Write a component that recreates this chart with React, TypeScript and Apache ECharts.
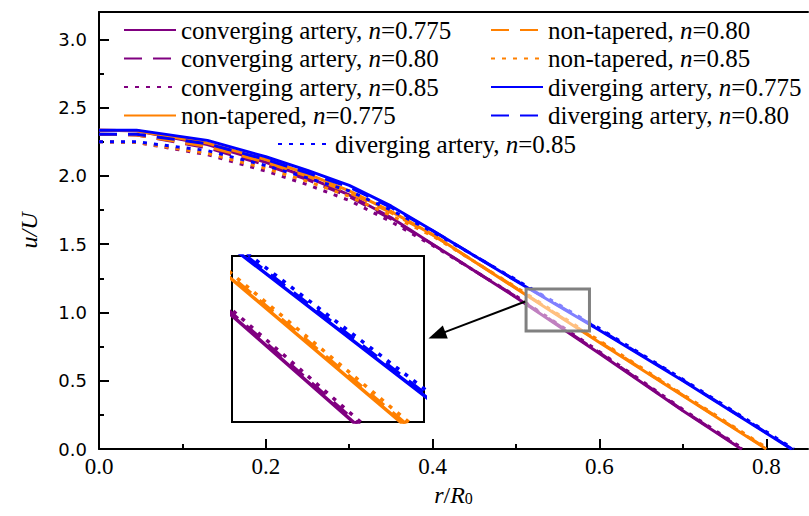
import React, { useEffect, useRef } from 'react';
import * as echarts from 'echarts';

// ---- data ----
const rPoints = [0, 0.045, 0.13, 0.2, 0.25, 0.3, 0.35, 0.4, 0.5, 0.6, 0.7];

const convU775 = [2.335, 2.33, 2.23, 2.1, 1.99, 1.86, 1.695, 1.5, 1.11, 0.7, 0.28];
const convU80 = [2.305, 2.3, 2.205, 2.08, 1.972, 1.848, 1.685, 1.498, 1.114, 0.705, 0.284];
const convU85 = [2.25, 2.245, 2.155, 2.035, 1.935, 1.82, 1.665, 1.49, 1.12, 0.713, 0.29];
const convEnd = [0.77, 0.771, 0.773];

const nonU775 = [2.335, 2.33, 2.24, 2.12, 2.015, 1.89, 1.74, 1.57, 1.175, 0.78, 0.39];
const nonU80 = [2.305, 2.3, 2.215, 2.1, 1.998, 1.878, 1.73, 1.568, 1.179, 0.785, 0.394];
const nonU85 = [2.25, 2.245, 2.165, 2.055, 1.96, 1.85, 1.71, 1.56, 1.185, 0.793, 0.4];
const nonEnd = [0.8, 0.801, 0.803];

const divU775 = [2.335, 2.335, 2.26, 2.14, 2.04, 1.93, 1.78, 1.6, 1.23, 0.87, 0.5];
const divU80 = [2.305, 2.305, 2.235, 2.12, 2.022, 1.918, 1.77, 1.598, 1.234, 0.875, 0.504];
const divU85 = [2.25, 2.25, 2.185, 2.075, 1.985, 1.89, 1.75, 1.59, 1.24, 0.883, 0.51];
const divEnd = [0.83, 0.831, 0.833];

const xMajor = [0, 0.2, 0.4, 0.6, 0.8];
const xMinor = [0.1, 0.3, 0.5, 0.7];
const yMajor = [0, 0.5, 1.0, 1.5, 2.0, 2.5, 3.0];
const yMinor = [0.25, 0.75, 1.25, 1.75, 2.25, 2.75];

// zoomed region (inset) in data coordinates
const insetR = [0.512, 0.588];
const insetU = [0.864, 1.171];
// arrow from the zoom box to the inset, data coordinates
const arrowFrom = [0.511, 1.08];
const arrowTo = [0.395, 0.81];

const PURPLE = '#800080';
const ORANGE = '#FF8000';
const BLUE = '#0000FF';
const SERIF = "'Liberation Serif', 'Times New Roman', serif";
const SANS = "'DejaVu Sans', Verdana, sans-serif";

const DASH = [18, 11];
const DOT = [4, 7];

const defs = [
  { name: 'converging artery, n=0.775', color: PURPLE, type: 'solid', u: convU775, end: convEnd[0] },
  { name: 'converging artery, n=0.80', color: PURPLE, type: DASH, u: convU80, end: convEnd[1] },
  { name: 'converging artery, n=0.85', color: PURPLE, type: DOT, u: convU85, end: convEnd[2] },
  { name: 'non-tapered, n=0.775', color: ORANGE, type: 'solid', u: nonU775, end: nonEnd[0] },
  { name: 'non-tapered, n=0.80', color: ORANGE, type: DASH, u: nonU80, end: nonEnd[1] },
  { name: 'non-tapered, n=0.85', color: ORANGE, type: DOT, u: nonU85, end: nonEnd[2] },
  { name: 'diverging artery, n=0.775', color: BLUE, type: 'solid', u: divU775, end: divEnd[0] },
  { name: 'diverging artery, n=0.80', color: BLUE, type: DASH, u: divU80, end: divEnd[1] },
  { name: 'diverging artery, n=0.85', color: BLUE, type: DOT, u: divU85, end: divEnd[2] },
];

function seriesData(u: number[], end: number) {
  const d: number[][] = rPoints.map((r, i) => [r, u[i]]);
  d.push([end, 0]);
  return d;
}

export default function App() {
  const ref = useRef<HTMLDivElement>(null);
  useEffect(() => {
    document.body.style.margin = '0';
    const chart = echarts.init(ref.current!, null, { renderer: 'svg' });
    const names = defs.map((d) => d.name);
    const LH = 25;
    const PITCH = 28.5;
    const legendText = {
      fontFamily: SERIF,
      fontSize: 25,
      color: '#000',
      lineHeight: LH,
      rich: { i: { fontFamily: SERIF, fontSize: 25, fontStyle: 'italic', color: '#000', lineHeight: LH } },
    };
    const legendBase = {
      orient: 'vertical',
      itemWidth: 52,
      itemHeight: 14,
      itemGap: PITCH - LH,
      padding: 0,
      selectedMode: false,
      itemStyle: { color: 'rgba(0,0,0,0)', borderColor: 'rgba(0,0,0,0)', borderWidth: 0, opacity: 0 },
      textStyle: legendText,
      formatter: (n: string) => n.replace('n=', '{i|n}='),
    };
    const axisLineStyle = { color: '#000', width: 2 };

    const mainSeries = defs.map((d) => ({
      name: d.name,
      type: 'line',
      xAxisIndex: 0,
      yAxisIndex: 0,
      data: seriesData(d.u, d.end),
      symbol: 'none',
      showSymbol: false,
      lineStyle: { color: d.color, width: 3, type: d.type, cap: 'butt' },
      itemStyle: { color: d.color },
      z: 2,
    }));
    const insetSeries = defs.map((d) => ({
      name: d.name,
      type: 'line',
      xAxisIndex: 3,
      yAxisIndex: 2,
      data: seriesData(d.u, d.end),
      symbol: 'none',
      showSymbol: false,
      clip: true,
      lineStyle: { color: d.color, width: 3.5, type: d.type, cap: 'butt' },
      itemStyle: { color: d.color },
      z: 3,
    }));

    chart.setOption({
      animation: false,
      backgroundColor: '#fff',
      grid: [
        { left: 99, right: 1, top: 12, bottom: 67 },
        {
          left: 232, top: 256, width: 192, height: 166, show: true,
          backgroundColor: '#fff', borderColor: '#000', borderWidth: 2, z: 1,
        },
      ],
      legend: [
        { ...legendBase, data: names.slice(0, 4), left: 123, top: 30 - LH / 2 },
        { ...legendBase, data: names.slice(4, 8), left: 490, top: 30 - LH / 2 },
        { ...legendBase, data: names.slice(8), left: 277, top: 30 - LH / 2 + 4 * PITCH },
      ],
      xAxis: [
        {
          type: 'value', gridIndex: 0, min: 0, max: 0.85, position: 'bottom',
          axisLine: { show: true, onZero: false, lineStyle: axisLineStyle },
          axisTick: { show: true, inside: true, length: 10, customValues: xMajor, lineStyle: axisLineStyle },
          axisLabel: {
            customValues: xMajor, formatter: (v: number) => v.toFixed(1),
            fontFamily: SERIF, fontSize: 23, color: '#000', margin: 6,
          },
          splitLine: { show: false },
          name: '{i|r}/{i|R}{s|0}',
          nameLocation: 'middle',
          nameGap: 30,
          nameTextStyle: {
            fontFamily: SERIF, fontSize: 24, color: '#000',
            rich: {
              i: { fontFamily: SERIF, fontSize: 24, fontStyle: 'italic', color: '#000' },
              s: { fontFamily: SERIF, fontSize: 16, color: '#000', verticalAlign: 'bottom', padding: [8, 0, 0, 0] },
            },
          },
        },
        {
          type: 'value', gridIndex: 0, min: 0, max: 0.85, position: 'top',
          axisLine: { show: true, onZero: false, lineStyle: axisLineStyle },
          axisTick: { show: false }, axisLabel: { show: false }, splitLine: { show: false },
        },
        {
          type: 'value', gridIndex: 0, min: 0, max: 0.85, position: 'bottom',
          axisLine: { show: false, onZero: false },
          axisTick: { show: true, inside: true, length: 5, customValues: xMinor, lineStyle: axisLineStyle },
          axisLabel: { show: false }, splitLine: { show: false },
        },
        {
          type: 'value', gridIndex: 1, min: insetR[0], max: insetR[1], show: false,
          splitLine: { show: false },
        },
      ],
      yAxis: [
        {
          type: 'value', gridIndex: 0, min: 0, max: 3.2, position: 'left',
          axisLine: { show: true, onZero: false, lineStyle: axisLineStyle },
          axisTick: { show: true, inside: true, length: 10, customValues: yMajor, lineStyle: axisLineStyle },
          axisLabel: {
            customValues: yMajor, formatter: (v: number) => v.toFixed(1),
            fontFamily: SANS, fontSize: 18, color: '#000', margin: 12,
          },
          splitLine: { show: false },
          name: 'u/U',
          nameLocation: 'middle',
          nameGap: 58,
          nameTextStyle: { fontFamily: SERIF, fontSize: 24, fontStyle: 'italic', color: '#000' },
        },
        {
          type: 'value', gridIndex: 0, min: 0, max: 3.2, position: 'left',
          axisLine: { show: false, onZero: false },
          axisTick: { show: true, inside: true, length: 5, customValues: yMinor, lineStyle: axisLineStyle },
          axisLabel: { show: false }, splitLine: { show: false },
        },
        {
          type: 'value', gridIndex: 1, min: insetU[0], max: insetU[1], show: false,
          splitLine: { show: false },
        },
      ],
      series: [...mainSeries, ...insetSeries],
    });

    const p = (pt: number[]) => chart.convertToPixel({ xAxisIndex: 0, yAxisIndex: 0 }, pt) as number[];
    const a = p([insetR[0], insetU[1]]);
    const b = p([insetR[1], insetU[0]]);
    const s = p(arrowFrom);
    const t = p(arrowTo);
    const dx = t[0] - s[0];
    const dy = t[1] - s[1];
    const len = Math.sqrt(dx * dx + dy * dy);
    const ux = dx / len;
    const uy = dy / len;
    const headLen = 18;
    const headW = 7;
    const bx = t[0] - ux * headLen;
    const by = t[1] - uy * headLen;
    chart.setOption({
      graphic: [
        {
          type: 'rect', z: 100,
          shape: { x: a[0], y: a[1], width: b[0] - a[0], height: b[1] - a[1] },
          style: { fill: 'rgba(255,255,255,0.5)', stroke: '#808080', lineWidth: 3 },
        },
        {
          type: 'line', z: 100,
          shape: { x1: s[0], y1: s[1], x2: bx + ux * 2, y2: by + uy * 2 },
          style: { stroke: '#000', lineWidth: 2 },
        },
        {
          type: 'polygon', z: 100,
          shape: {
            points: [
              [t[0], t[1]],
              [bx - uy * headW, by + ux * headW],
              [bx + uy * headW, by - ux * headW],
            ],
          },
          style: { fill: '#000' },
        },
      ],
    });
    return () => chart.dispose();
  }, []);
  return <div ref={ref} style={{ width: 809, height: 516 }} />;
}
